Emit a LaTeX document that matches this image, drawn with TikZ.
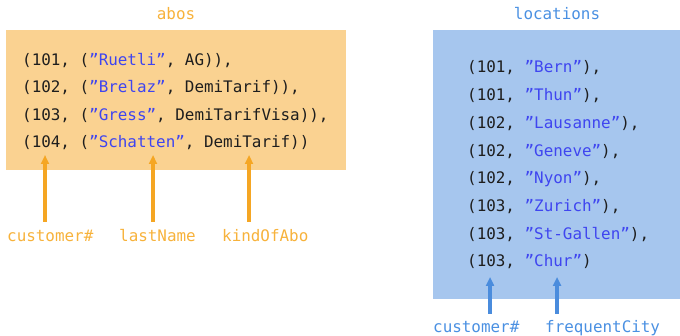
\documentclass[tikz,border=0pt]{standalone}
\usepackage{fontspec}
\setmonofont{DejaVu Sans Mono}
\usetikzlibrary{arrows.meta}
\definecolor{ofill}{HTML}{FAD291}
\definecolor{bfill}{HTML}{A6C6EE}
\definecolor{otxt}{HTML}{F7B23B}
\definecolor{oarr}{HTML}{F5A623}
\definecolor{btxt}{HTML}{4A90E2}
\definecolor{barr}{HTML}{4A8CDD}
\definecolor{strc}{HTML}{3F45F0}
\definecolor{code}{HTML}{1E1E1E}
\newcommand{\str}[1]{\textcolor{strc}{#1}}
\tikzset{
  row/.style={anchor=base west, inner sep=0pt, font=\ttfamily\fontsize{15.9}{18}\selectfont, text=code},
  olab/.style={anchor=base west, inner sep=0pt, font=\ttfamily\fontsize{15.9}{18}\selectfont, text=otxt},
  blab/.style={anchor=base west, inner sep=0pt, font=\ttfamily\fontsize{15.9}{18}\selectfont, text=btxt},
  oarrow/.style={draw=oarr, line width=3.2pt, -{Triangle[length=9pt,width=8pt]}},
  barrow/.style={draw=barr, line width=3.2pt, -{Triangle[length=9pt,width=8pt]}},
}
\begin{document}
\begin{tikzpicture}[x=1pt,y=-1pt]
\useasboundingbox (0,0) rectangle (680,336);
% boxes
\fill[ofill] (6,30) rectangle (346,170);
\fill[bfill] (433,30) rectangle (680,299);
% titles
\node[olab, anchor=base] (tabos) at (176,20) {abos};
\node[blab, anchor=base] (tloc) at (557,20) {locations};
% abos rows
\node[row] (a1) at (22,65.5) {(101, (\str{”Ruetli”}, AG)),};
\node[row] (a2) at (22,93) {(102, (\str{”Brelaz”}, DemiTarif)),};
\node[row] (a3) at (22,120.5) {(103, (\str{”Gress”}, DemiTarifVisa)),};
\node[row] (a4) at (22,148) {(104, (\str{”Schatten”}, DemiTarif))};
% locations rows
\node[row] (l1) at (467,73) {(101, \str{”Bern”}),};
\node[row] (l2) at (467,100.7) {(101, \str{”Thun”}),};
\node[row] (l3) at (467,128.4) {(102, \str{”Lausanne”}),};
\node[row] (l4) at (467,156.1) {(102, \str{”Geneve”}),};
\node[row] (l5) at (467,183.9) {(102, \str{”Nyon”}),};
\node[row] (l6) at (467,211.6) {(103, \str{”Zurich”}),};
\node[row] (l7) at (467,239.3) {(103, \str{”St-Gallen”}),};
\node[row] (l8) at (467,267) {(103, \str{”Chur”})};
% abos labels
\node[olab] (c1) at (7,242) {customer\#};
\node[olab] (c2) at (119,242) {lastName};
\node[olab] (c3) at (222,242) {kindOfAbo};
\coordinate (c1t) at (45,222);
\coordinate (c2t) at (153,222);
\coordinate (c3t) at (249,222);
\coordinate (c1h) at (45,155);
\coordinate (c2h) at (153,155);
\coordinate (c3h) at (249,155);
\draw[oarrow] (c1t) -- (c1h);
\draw[oarrow] (c2t) -- (c2h);
\draw[oarrow] (c3t) -- (c3h);
% locations labels
\node[blab] (d1) at (433,333) {customer\#};
\node[blab] (d2) at (545,333) {frequentCity};
\coordinate (d1t) at (490,314);
\coordinate (d2t) at (557,314);
\coordinate (d1h) at (490,277);
\coordinate (d2h) at (557,277);
\draw[barrow] (d1t) -- (d1h);
\draw[barrow] (d2t) -- (d2h);
\end{tikzpicture}
\end{document}
